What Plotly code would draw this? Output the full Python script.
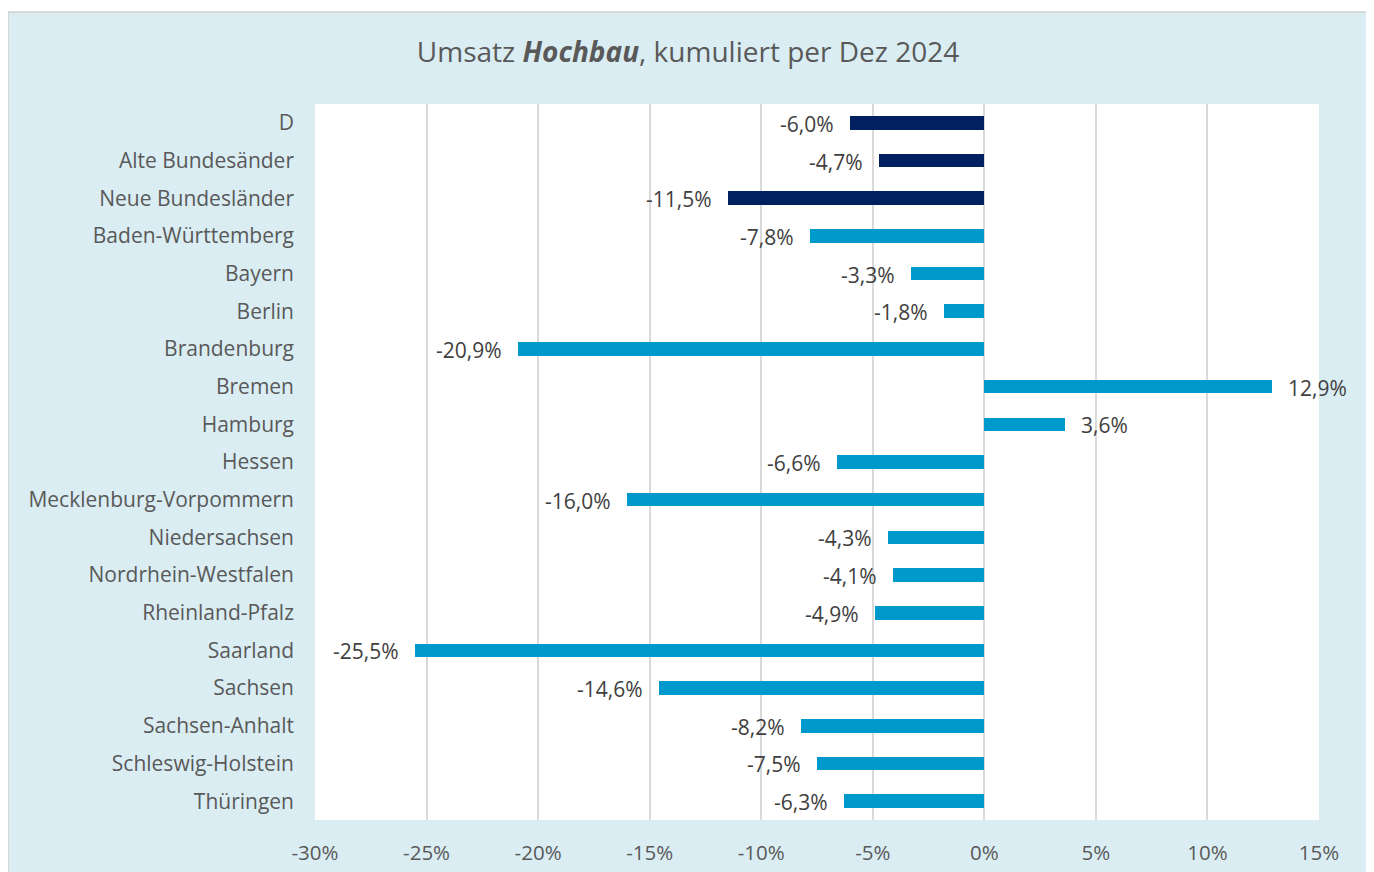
import plotly.graph_objects as go

categories = ["D", "Alte Bundesänder", "Neue Bundesländer", "Baden-Württemberg", "Bayern",
              "Berlin", "Brandenburg", "Bremen", "Hamburg", "Hessen",
              "Mecklenburg-Vorpommern", "Niedersachsen", "Nordrhein-Westfalen",
              "Rheinland-Pfalz", "Saarland", "Sachsen", "Sachsen-Anhalt",
              "Schleswig-Holstein", "Thüringen"]
values = [-6.0, -4.7, -11.5, -7.8, -3.3, -1.8, -20.9, 12.9, 3.6, -6.6,
          -16.0, -4.3, -4.1, -4.9, -25.5, -14.6, -8.2, -7.5, -6.3]
groups = ["agg", "agg", "agg"] + ["land"] * 16
tick_vals = [-30, -25, -20, -15, -10, -5, 0, 5, 10, 15]
tick_text = ["-30%", "-25%", "-20%", "-15%", "-10%", "-5%", "0%", "5%", "10%", "15%"]

color_map = {"agg": "#002060", "land": "#0099CC"}
FONT = "'Open Sans', Lato, sans-serif"
GRAY = "#595959"

W, H = 1366, 864
L, R, T, B = 307, 55, 96, 52
PW, PH = W - L - R, H - T - B

fig = go.Figure()
fig.add_trace(go.Bar(
    x=values, y=categories, orientation="h",
    marker=dict(color=[color_map[g] for g in groups], line=dict(width=0)),
    width=0.36, hoverinfo="skip",
))

for c, v in zip(categories, values):
    fig.add_annotation(
        x=v, y=c, xref="x", yref="y",
        text=f"{v:.1f}%".replace(".", ","),
        showarrow=False,
        xanchor="right" if v < 0 else "left",
        xshift=-14 if v < 0 else 14,
        yshift=-1,
        font=dict(family=FONT, size=21, color="#404040"),
    )

# outer panel
fig.add_shape(type="rect", xref="paper", yref="paper",
              x0=(0 - L) / PW, x1=(1361 - L) / PW,
              y0=(T + PH - (H + 10)) / PH, y1=(T + PH - 4) / PH,
              fillcolor="#DAEDF3", line=dict(color="#D0D0D0", width=1.5), layer="below")
# white plot area
fig.add_shape(type="rect", xref="x domain", yref="y domain",
              x0=0, x1=1, y0=0, y1=1,
              fillcolor="white", line=dict(width=0), layer="below")

fig.update_layout(
    width=W, height=H,
    margin=dict(l=L, r=R, t=T, b=B, autoexpand=False),
    paper_bgcolor="white", plot_bgcolor="white",
    showlegend=False,
    title=dict(text="Umsatz <b><i>Hochbau</i></b>, kumuliert per Dez 2024",
               x=(680 - 0) / W, xanchor="center", y=1 - 44 / H, yanchor="middle",
               font=dict(family=FONT, size=28, color=GRAY)),
    font=dict(family=FONT, color=GRAY),
    bargap=0,
)
fig.update_xaxes(range=[-30, 15], tickvals=tick_vals, ticktext=tick_text,
                 showgrid=True, gridcolor="#D9D9D9", gridwidth=1.5,
                 zeroline=True, zerolinecolor="#D9D9D9", zerolinewidth=1.5,
                 showline=False, ticks="", ticklabelstandoff=18, automargin=False,
                 tickfont=dict(family=FONT, size=20.5, color=GRAY), fixedrange=True)
fig.update_yaxes(autorange="reversed", showgrid=False, zeroline=False, showline=False,
                 ticks="", ticklabelstandoff=20, automargin=False,
                 tickfont=dict(family=FONT, size=21, color=GRAY), fixedrange=True)

fig.write_html("out.html")
